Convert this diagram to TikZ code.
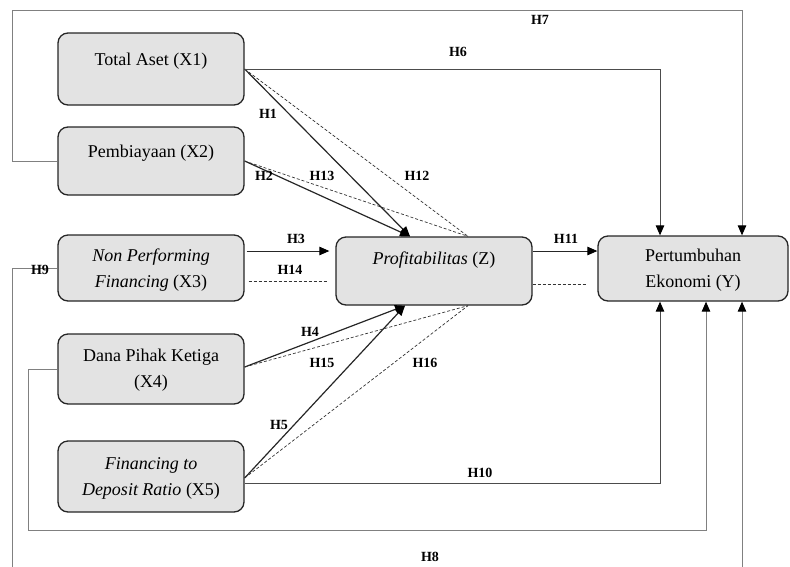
\documentclass[tikz,border=0pt]{standalone}
\usepackage{fontspec}
\setmainfont{Liberation Serif}
\usetikzlibrary{arrows.meta,calc}

\tikzset{
  box/.style={draw=black!85, line width=1.3pt, fill=black!11, rounded corners=10pt, inner sep=0pt},
  boxtext/.style={align=center, font=\fontsize{18}{26}\selectfont},
  hlab/.style={font=\fontsize{14}{14}\selectfont\bfseries, inner sep=0pt},
  tip/.style={-{Triangle[length=10pt,width=8.5pt,color=black]}},
  solidline/.style={draw=black!85, line width=1.2pt},
  thinline/.style={draw=black!85, line width=0.9pt},
  dashline/.style={draw=black!80, line width=0.7pt, dash pattern=on 3pt off 2pt},
  route/.style={draw=black!70, line width=1pt},
  outer/.style={draw=black!50, line width=1pt}
}

\begin{document}
\begin{tikzpicture}[x=1pt,y=-1pt]
\useasboundingbox (0,0) rectangle (790,566);
\clip (0,0) rectangle (790,566);

% construct boxes
\node[box, minimum width=186pt, minimum height=72pt] (x1) at (151,69) {};
\node[box, minimum width=186pt, minimum height=68pt] (x2) at (151,161) {};
\node[box, minimum width=186pt, minimum height=66pt] (x3) at (151,268) {};
\node[box, minimum width=186pt, minimum height=70pt] (x4) at (151,369) {};
\node[box, minimum width=186pt, minimum height=71pt] (x5) at (151,476.5) {};
\node[box, minimum width=196pt, minimum height=68pt] (z) at (434,271) {};
\node[box, minimum width=190pt, minimum height=65pt] (yy) at (693,268.5) {};

% box captions
\node[boxtext] (x1t) at (151,61) {Total Aset (X1)};
\node[boxtext] (x2t) at (151,153) {Pembiayaan (X2)};
\node[boxtext] (x3t) at (151,270) {\textit{Non Performing}\\\textit{Financing} (X3)};
\node[boxtext] (x4t) at (151,370) {Dana Pihak Ketiga\\(X4)};
\node[boxtext] (x5t) at (151,478) {\textit{Financing to}\\\textit{Deposit Ratio} (X5)};
\node[boxtext] (zt) at (434,260) {\textit{Profitabilitas} (Z)};
\node[boxtext] (yt) at (693,270) {Pertumbuhan\\Ekonomi (Y)};

% anchor points on Z and Y
\coordinate (zt1) at ([xshift=-24pt]z.north);
\coordinate (zt2) at ([xshift=34pt]z.north);
\coordinate (zb1) at ([xshift=-29pt]z.south);
\coordinate (zb2) at ([xshift=34pt]z.south);
\coordinate (yn1) at ([xshift=-33pt]yy.north);
\coordinate (yn2) at ([xshift=49pt]yy.north);
\coordinate (ys1) at ([xshift=-33pt]yy.south);
\coordinate (ys2) at ([xshift=13pt]yy.south);
\coordinate (ys3) at ([xshift=49pt]yy.south);

% direct paths into Z
\draw[solidline,tip] (x1.east) -- (zt1);
\draw[solidline,tip] (x2.east) -- (zt1);
\draw[thinline,tip] ([xshift=2pt,yshift=17pt]x3.east) -- ([xshift=-6pt,yshift=20pt]z.west);
\draw[solidline,tip] ([yshift=2pt]x4.east) -- (zb1);
\draw[solidline,tip] ([yshift=-1.5pt]x5.east) -- (zb1);
\draw[thinline,tip] ([yshift=20pt]z.east) -- ([yshift=17.5pt]yy.west);

% mediated (dashed) paths
\draw[dashline] (x1.east) -- (zt2);
\draw[dashline] (x2.east) -- (zt2);
\draw[dashline] ([xshift=4pt,yshift=-13pt]x3.east) -- ([xshift=-8pt,yshift=-10pt]z.west);
\draw[dashline] ([yshift=2pt]x4.east) -- (zb2);
\draw[dashline] ([yshift=-1.5pt]x5.east) -- (zb2);
\draw[dashline] ([yshift=-13pt]z.east) -- ([xshift=-10pt,yshift=-15.5pt]yy.west);

% direct paths into Y
\draw[route,tip] (x1.east) -| (yn1);
\draw[route,tip] ([yshift=-7pt]x5.east) -| (ys1);
\draw[outer,tip] (x2.west) -| (12,10) -| (yn2);
\draw[outer,tip] (x4.west) -| (28,530) -| (ys2);
\draw[outer,tip] (x3.west) -| (12,590) -| (ys3);

% hypothesis labels
\node[hlab] (h7) at (540,20) {H7};
\node[hlab] (h6) at (458,52) {H6};
\node[hlab] (h1) at (268,114) {H1};
\node[hlab] (h2) at (264,176) {H2};
\node[hlab] (h13) at (322,176) {H13};
\node[hlab] (h12) at (417,176) {H12};
\node[hlab] (h3) at (296,239) {H3};
\node[hlab] (h14) at (290,270) {H14};
\node[hlab] (h11) at (566,239) {H11};
\node[hlab] (h9) at (40,270) {H9};
\node[hlab] (h4) at (310,332) {H4};
\node[hlab] (h15) at (322,363) {H15};
\node[hlab] (h16) at (425,363) {H16};
\node[hlab] (h5) at (279,425) {H5};
\node[hlab] (h10) at (480,473) {H10};
\node[hlab] (h8) at (430,557) {H8};
\end{tikzpicture}
\end{document}
